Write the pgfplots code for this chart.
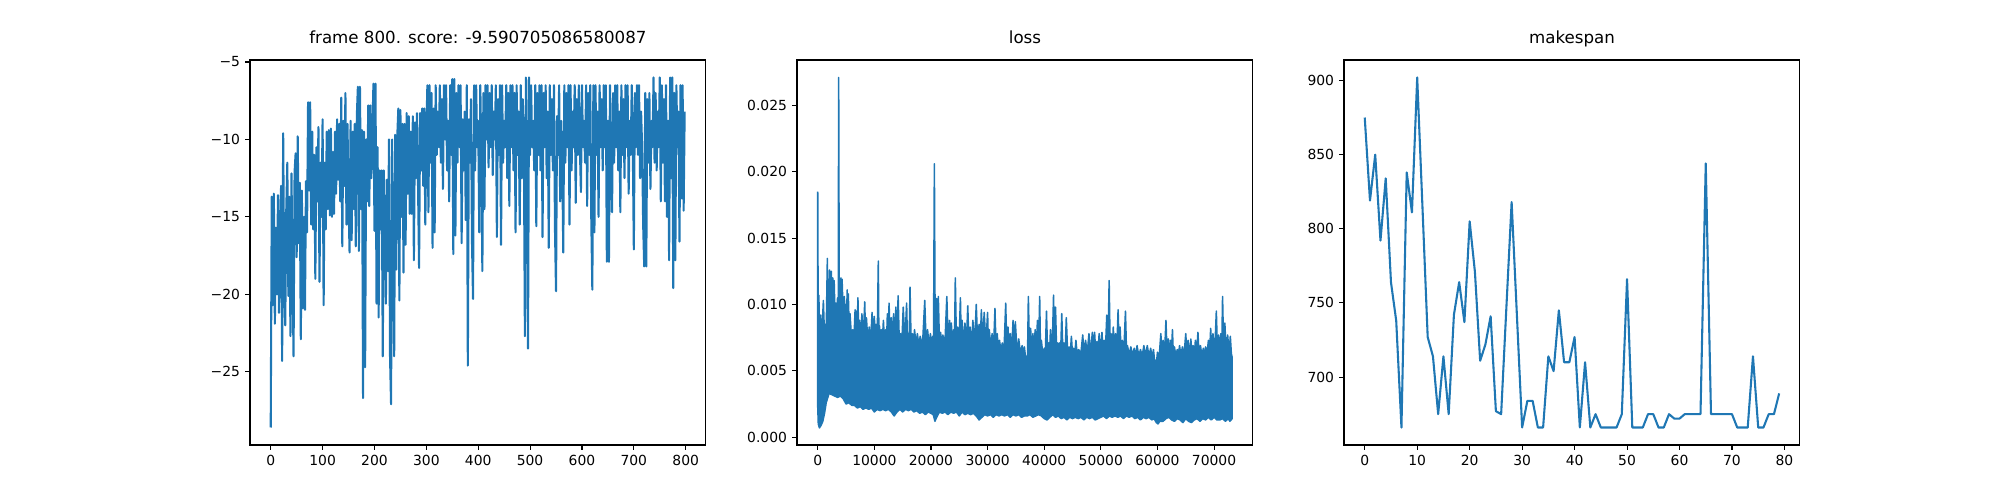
\documentclass[border=0pt]{standalone}
\usepackage{pgfplots}
\pgfplotsset{compat=1.18}
\usepackage{fontspec}
\setmainfont{DejaVu Sans}
\definecolor{mplblue}{HTML}{1F77B4}
\pgfplotsset{
  mpl/.style={
    scale only axis, width=4.559in, height=3.85in,
    axis line style={line width=0.8bp, black},
    every tick/.style={line width=0.8bp, black},
    major tick length=3.5bp,
    tick align=outside, tick pos=left,
    minor tick num=0,
    scaled ticks=false,
    tick label style={font=\fontsize{10bp}{12bp}\selectfont},
    xticklabel style={anchor=north, inner sep=0pt, yshift=-3.5bp},
    yticklabel style={anchor=east, inner sep=0pt, xshift=-3.5bp},
    title style={at={(0.5,1)}, anchor=base, yshift=6bp, inner sep=0pt, font=\fontsize{12bp}{14bp}\selectfont},
    clip=true,
  },
  mplline/.style={color=mplblue, line width=1.5bp, line join=round, mark=none},
}
\pgfplotstableread{
x y
0 -28.6
2 -13.7
4 -20.7
6 -13.5
8 -21.9
10 -15.7
12 -20.0
14 -13.6
16 -21.2
18 -15.9
20 -13.0
22 -24.3
24 -9.6
26 -19.5
28 -22.0
30 -14.5
32 -11.5
34 -20.1
36 -13.7
38 -22.7
40 -12.2
42 -18.5
44 -24.0
46 -12.1
48 -10.9
50 -17.6
52 -9.8
54 -16.7
56 -12.8
58 -22.9
60 -13.3
62 -20.9
64 -15.0
66 -21.0
68 -12.7
70 -16.0
72 -7.6
74 -13.3
76 -7.6
78 -15.5
80 -9.5
82 -15.8
84 -11.0
86 -19.0
88 -10.5
90 -14.0
92 -9.2
94 -19.2
96 -11.5
98 -15.0
100 -8.7
102 -20.7
104 -11.5
106 -15.8
108 -9.5
110 -14.5
112 -9.4
114 -14.9
116 -9.3
118 -15.0
120 -10.8
122 -14.8
124 -9.5
126 -13.5
128 -8.7
130 -12.6
132 -9.0
134 -14.0
136 -7.3
138 -16.9
140 -8.8
142 -13.0
144 -7.0
146 -15.5
148 -9.0
150 -14.0
152 -17.3
154 -8.8
156 -16.5
158 -9.5
160 -14.5
162 -9.0
164 -16.9
166 -8.5
168 -6.6
170 -17.2
172 -6.6
174 -14.5
176 -9.4
178 -26.7
180 -9.5
182 -24.7
184 -10.0
186 -14.0
188 -7.8
190 -14.3
192 -7.8
194 -12.5
196 -9.5
198 -6.4
200 -15.9
202 -6.4
204 -20.6
206 -10.5
208 -21.5
210 -12.0
212 -15.8
214 -12.0
216 -24.0
218 -12.0
220 -16.0
222 -20.6
224 -12.6
226 -18.5
228 -10.0
230 -24.0
232 -27.1
234 -10.0
236 -18.0
238 -24.0
240 -9.7
242 -18.4
244 -9.8
246 -8.0
248 -20.4
250 -8.1
252 -15.0
254 -9.0
256 -18.6
258 -9.0
260 -16.8
262 -8.3
264 -13.5
266 -8.5
268 -14.8
270 -9.5
272 -14.8
274 -8.5
276 -17.8
278 -8.9
280 -12.5
282 -8.3
284 -13.0
286 -18.3
288 -8.3
290 -12.0
292 -8.0
294 -13.0
296 -8.0
298 -15.5
300 -9.5
302 -6.5
304 -14.7
306 -6.5
308 -11.5
310 -7.0
312 -17.0
314 -8.0
316 -16.0
318 -6.5
320 -11.0
322 -8.2
324 -10.5
326 -6.5
328 -11.5
330 -7.4
332 -13.2
334 -6.5
336 -10.0
338 -6.5
340 -12.0
342 -8.8
344 -14.0
346 -6.5
348 -11.0
350 -6.1
352 -17.4
354 -6.1
356 -16.2
358 -7.0
360 -11.5
362 -6.5
364 -10.5
366 -6.5
368 -16.7
370 -8.7
372 -12.0
374 -8.2
376 -15.2
378 -6.5
380 -24.6
382 -8.7
384 -11.5
386 -7.4
388 -16.6
390 -20.3
392 -6.5
394 -12.0
396 -6.5
398 -10.5
400 -8.8
402 -16.0
404 -6.5
406 -11.0
408 -18.5
410 -7.0
412 -14.5
414 -6.5
416 -10.0
418 -6.5
420 -11.8
422 -7.0
424 -10.5
426 -6.5
428 -12.3
430 -8.2
432 -10.0
434 -6.5
436 -16.3
438 -7.4
440 -11.0
442 -6.5
444 -16.8
446 -6.5
448 -11.5
450 -8.8
452 -10.5
454 -6.5
456 -12.5
458 -7.0
460 -14.3
462 -6.5
464 -10.5
466 -6.5
468 -12.0
470 -7.0
472 -16.0
474 -6.5
476 -11.0
478 -8.2
480 -15.5
482 -6.5
484 -12.5
486 -7.4
488 -10.5
490 -22.7
492 -6.0
494 -11.5
496 -23.5
498 -6.0
500 -11.0
502 -6.5
504 -10.5
506 -8.8
508 -12.0
510 -6.5
512 -15.6
514 -7.0
516 -11.0
518 -6.5
520 -12.0
522 -6.5
524 -16.3
526 -7.0
528 -10.5
530 -6.5
532 -12.5
534 -8.2
536 -17.0
538 -6.5
540 -11.0
542 -7.4
544 -12.0
546 -6.5
548 -15.8
550 -19.8
552 -8.5
554 -11.0
556 -6.5
558 -14.0
560 -8.8
562 -11.5
564 -17.3
566 -6.5
568 -11.5
570 -7.0
572 -10.5
574 -6.5
576 -15.5
578 -6.5
580 -12.0
582 -8.2
584 -10.5
586 -6.5
588 -14.1
590 -7.4
592 -11.0
594 -6.5
596 -10.5
598 -13.4
600 -6.5
602 -10.5
604 -8.8
606 -11.5
608 -6.5
610 -14.3
612 -7.0
614 -11.0
616 -6.5
618 -15.2
620 -19.7
622 -6.5
624 -16.0
626 -6.5
628 -11.0
630 -8.2
632 -15.0
634 -6.5
636 -10.5
638 -7.4
640 -12.0
642 -6.5
644 -10.5
646 -6.5
648 -17.9
650 -8.8
652 -17.9
654 -6.5
656 -11.5
658 -14.7
660 -7.0
662 -11.5
664 -6.5
666 -10.5
668 -6.5
670 -12.0
672 -8.2
674 -14.7
676 -6.5
678 -11.0
680 -7.4
682 -12.5
684 -6.5
686 -10.5
688 -6.5
690 -13.5
692 -8.8
694 -11.0
696 -6.5
698 -10.5
700 -17.1
702 -7.0
704 -10.5
706 -6.5
708 -11.0
710 -6.5
712 -12.5
714 -8.2
716 -10.5
718 -15.5
720 -18.2
722 -7.0
724 -18.2
726 -7.4
728 -11.5
730 -7.0
732 -13.2
734 -8.8
736 -10.5
738 -6.0
740 -11.5
742 -7.0
744 -12.0
746 -8.2
748 -10.5
750 -6.0
752 -14.0
754 -6.5
756 -11.5
758 -7.4
760 -14.0
762 -6.5
764 -15.0
766 -8.8
768 -17.8
770 -6.0
772 -12.5
774 -6.0
776 -19.6
778 -7.0
780 -17.8
782 -6.5
784 -10.5
786 -8.2
788 -16.6
790 -6.5
792 -13.8
794 -6.5
796 -14.6
798 -8.2
}\scoretable
\pgfplotstableread{
x y
0 0.0185
100 0.0060
200 0.0107
350 0.0070
500 0.0092
700 0.0075
1000 0.0103
1150 0.0082
1300 0.0085
1500 0.0080
1700 0.01347
1800 0.0095
1900 0.0105
2000 0.0092
2100 0.0126
2250 0.0100
2400 0.0125
2520 0.0098
2650 0.0120
2780 0.0100
2900 0.0118
3050 0.0092
3200 0.0101
3350 0.0090
3500 0.0105
3620 0.0092
3700 0.0271
3800 0.0095
3900 0.0110
4000 0.0095
4100 0.0120
4200 0.0098
4300 0.0119
4500 0.0092
4700 0.0106
4850 0.0088
5000 0.0100
5100 0.0088
5200 0.0111
5300 0.0090
5400 0.0108
5550 0.0082
5700 0.0093
5950 0.0076
6200 0.0081
6400 0.0074
6600 0.0096
6700 0.0080
6800 0.0095
6950 0.0076
7100 0.0105
7250 0.0074
7400 0.0088
7600 0.0073
7800 0.0093
8050 0.0074
8300 0.0102
8450 0.0075
8600 0.0090
8850 0.0072
9100 0.0083
9350 0.0072
9600 0.0094
9800 0.0073
10000 0.0091
10150 0.0072
10300 0.0085
10500 0.0072
10700 0.01327
10800 0.0075
10900 0.0084
11050 0.0071
11200 0.0081
11400 0.0071
11600 0.0088
11800 0.0071
12000 0.0081
12150 0.0071
12300 0.0093
12450 0.0073
12600 0.0101
12800 0.0072
13000 0.0090
13200 0.0072
13400 0.0093
13600 0.0073
13800 0.0098
14000 0.0074
14200 0.01066
14400 0.0072
14600 0.0078
14850 0.0070
15100 0.0098
15400 0.0072
15700 0.0101
15850 0.0071
16000 0.0078
16150 0.0071
16300 0.0113
16500 0.0070
16700 0.0078
16900 0.0070
17100 0.0081
17350 0.0070
17600 0.0078
17850 0.0069
18100 0.0076
18500 0.0069
18900 0.0103
19150 0.0070
19400 0.0081
19650 0.0069
19900 0.0078
20100 0.0069
20300 0.0076
20450 0.0070
20600 0.0206
20750 0.0070
20900 0.0080
20950 0.0072
21000 0.01045
21150 0.0072
21300 0.0106
21500 0.0070
21700 0.0079
21900 0.0069
22100 0.0077
22450 0.0069
22800 0.0106
23050 0.0070
23300 0.0088
23450 0.0070
23600 0.0086
23800 0.0069
24000 0.0081
24150 0.0070
24300 0.0120
24500 0.0070
24700 0.0083
24950 0.0070
25200 0.0105
25350 0.0071
25500 0.0088
25750 0.0070
26000 0.0086
26250 0.0070
26500 0.0099
26700 0.0070
26900 0.0083
27150 0.0069
27400 0.0088
27700 0.0070
28000 0.0100
28250 0.0070
28500 0.0085
28700 0.0070
28900 0.0096
29150 0.0071
29400 0.0094
29700 0.0070
30000 0.0094
30150 0.0068
30300 0.0081
30550 0.0067
30800 0.0078
31050 0.0066
31300 0.0097
31500 0.0066
31700 0.0078
31900 0.0065
32100 0.0073
32350 0.0065
32600 0.0071
32900 0.0065
33200 0.0101
33400 0.0066
33600 0.0083
33800 0.0065
34000 0.0078
34250 0.0065
34500 0.0088
34700 0.0066
34900 0.0087
35200 0.0064
35500 0.0074
35800 0.0063
36100 0.0069
36300 0.0063
36500 0.0068
36700 0.0060
36900 0.0061
37050 0.0060
37200 0.0106
37400 0.0064
37600 0.0082
37800 0.0064
38000 0.0078
38200 0.0063
38400 0.0081
38600 0.0064
38800 0.0088
39000 0.0064
39200 0.0106
39350 0.0063
39500 0.0073
39750 0.0062
40000 0.0067
40200 0.0063
40400 0.0095
40600 0.0063
40800 0.0071
40950 0.0063
41100 0.0081
41400 0.0064
41650 0.0107
41800 0.0068
42000 0.0098
42200 0.0063
42400 0.0071
42550 0.0063
42700 0.0071
42900 0.0063
43100 0.0093
43300 0.0063
43500 0.0071
43700 0.0063
43900 0.0090
44150 0.0062
44400 0.0068
44600 0.0062
44800 0.0076
45000 0.0062
45200 0.0067
45400 0.0062
45600 0.0073
45850 0.0061
46100 0.0066
46450 0.0062
46800 0.0077
47050 0.0062
47300 0.0073
47600 0.0063
47900 0.0078
48200 0.0063
48500 0.0079
48700 0.0064
48900 0.0079
49100 0.0063
49300 0.0072
49500 0.0063
49700 0.0078
49950 0.0063
50200 0.0079
50400 0.0063
50600 0.0073
50800 0.0064
51050 0.0092
51250 0.0066
51470 0.0118
51650 0.0066
51800 0.0078
52000 0.0064
52200 0.0083
52400 0.0064
52600 0.0078
52800 0.0064
53050 0.0096
53250 0.0064
53400 0.0083
53600 0.0063
53800 0.0073
54050 0.0063
54350 0.0095
54550 0.0062
54700 0.0069
55000 0.0062
55300 0.0068
55600 0.0062
55900 0.0067
56150 0.0061
56400 0.0069
56700 0.0061
57000 0.0066
57300 0.0061
57600 0.0069
57900 0.0061
58200 0.0069
58500 0.0061
58800 0.0067
59050 0.0060
59300 0.0066
59500 0.0057
59700 0.0058
59850 0.0057
60000 0.0064
60300 0.0060
60600 0.0078
60800 0.0062
61000 0.0073
61250 0.0062
61500 0.0088
61700 0.0063
61900 0.0074
62100 0.0062
62300 0.0073
62450 0.0062
62650 0.0081
62800 0.0062
63000 0.0068
63250 0.0061
63500 0.0066
63700 0.0061
63900 0.0069
64150 0.0061
64400 0.0068
64700 0.0062
65000 0.0078
65200 0.0062
65400 0.0073
65650 0.0062
65900 0.0074
66100 0.0061
66300 0.0069
66500 0.0061
66700 0.0073
66900 0.0062
67150 0.0079
67350 0.0061
67600 0.0069
67850 0.0061
68100 0.0067
68300 0.0061
68500 0.0068
68750 0.0062
69000 0.0073
69200 0.0062
69400 0.0082
69600 0.0063
69800 0.0078
70100 0.0063
70400 0.0095
70600 0.0063
70800 0.0077
71000 0.0063
71200 0.0078
71350 0.0064
71500 0.0106
71700 0.0064
71900 0.0086
72150 0.0063
72400 0.0077
72650 0.0063
72870 0.0076
73050 0.0063
73200 0.0060
73200 0.0014
72800 0.0012
72500 0.0014
72000 0.0012
71500 0.0014
71000 0.0013
70500 0.0013
70000 0.0015
69500 0.0013
69000 0.0015
68500 0.0013
68000 0.0014
67500 0.0012
67000 0.0014
66500 0.0013
66000 0.0011
65500 0.0012
65000 0.0014
64500 0.0011
64000 0.0013
63500 0.0014
63000 0.0012
62500 0.0013
62000 0.0015
61500 0.0014
61000 0.0012
60400 0.0012
60100 0.0010
59800 0.0011
59400 0.0014
59000 0.0013
58500 0.0015
58000 0.0014
57500 0.0015
57000 0.0013
56500 0.0015
56000 0.0014
55500 0.0016
55000 0.0015
54500 0.0016
54000 0.0014
53500 0.0016
53000 0.0015
52500 0.0016
52000 0.0015
51500 0.0016
51000 0.0014
50500 0.0016
50000 0.0015
49500 0.0014
49000 0.0013
48500 0.0015
48000 0.0014
47500 0.0015
47000 0.0013
46500 0.0015
46000 0.0014
45500 0.0015
45000 0.0014
44500 0.0015
44000 0.0013
43500 0.0015
43000 0.0014
42500 0.0016
42000 0.0015
41500 0.0017
41000 0.0015
40500 0.0013
40000 0.0014
39500 0.0016
39000 0.0017
38500 0.0016
38000 0.0015
37500 0.0017
37000 0.0016
36500 0.0016
36000 0.0015
35500 0.0017
35000 0.0016
34500 0.0017
34000 0.0015
33500 0.0017
33000 0.0016
32500 0.0017
32000 0.0016
31500 0.0017
31000 0.0015
30500 0.0017
30000 0.0016
29500 0.0017
29000 0.0015
28500 0.0013
28000 0.0016
27500 0.0018
27000 0.0017
26500 0.0018
26000 0.0017
25500 0.0019
25000 0.0016
24500 0.0019
24000 0.0018
23500 0.0019
23000 0.0017
22500 0.0019
22000 0.0018
21500 0.0019
21000 0.0015
20700 0.0012
20400 0.0017
20000 0.0018
19500 0.0019
19000 0.0017
18500 0.0019
18000 0.0018
17500 0.0020
17000 0.0019
16500 0.0021
16000 0.0020
15500 0.0021
15000 0.0019
14500 0.0021
14000 0.0019
13500 0.0016
13000 0.0019
12500 0.0021
12000 0.0020
11500 0.0021
11000 0.0020
10500 0.0021
10000 0.0019
9500 0.0022
9000 0.0021
8500 0.0022
8000 0.0021
7500 0.0023
7000 0.0022
6500 0.0024
6000 0.0024
5500 0.0026
5000 0.0025
4500 0.0029
4000 0.0031
3500 0.0030
3000 0.0031
2500 0.0032
2000 0.0033
1500 0.0026
1200 0.0018
900 0.0012
600 0.0009
300 0.0007
100 0.0010
0 0.0023
0 0.0185
}\losstable
\begin{document}
\begin{tikzpicture}
\useasboundingbox (0,0) rectangle (20in,5in);
% ---------------- score ----------------
\begin{axis}[mpl, at={(2.5in,0.55in)}, anchor=south west,
  xmin=-39.95, xmax=838.95, ymin=-29.73, ymax=-4.87,
  xtick={0,100,200,300,400,500,600,700,800},
  xticklabels={0,100,200,300,400,500,600,700,800},
  ytick={-25,-20,-15,-10,-5},
  yticklabels={−25,−20,−15,−10,−5},
  title={frame 800. score: -9.590705086580087}]
\addplot[mplline] table {\scoretable};
\end{axis}
% ---------------- loss ----------------
\begin{axis}[mpl, at={(7.97in,0.55in)}, anchor=south west,
  xmin=-3660, xmax=76860, ymin=-0.00059, ymax=0.02842,
  xtick={0,10000,20000,30000,40000,50000,60000,70000},
  xticklabels={0,10000,20000,30000,40000,50000,60000,70000},
  ytick={0,0.005,0.01,0.015,0.02,0.025},
  yticklabels={0.000,0.005,0.010,0.015,0.020,0.025},
  title={loss}]
\addplot[color=mplblue, fill=mplblue, line width=1.1bp, line join=round, mark=none] table {\losstable};
\end{axis}
% ---------------- makespan ----------------
\begin{axis}[mpl, at={(13.44in,0.55in)}, anchor=south west,
  xmin=-3.95, xmax=82.95, ymin=654.2, ymax=913.8,
  xtick={0,10,20,30,40,50,60,70,80},
  xticklabels={0,10,20,30,40,50,60,70,80},
  ytick={700,750,800,850,900},
  yticklabels={700,750,800,850,900},
  title={makespan}]
\addplot[mplline] coordinates {
(0,875)(1,819)(2,850)(3,792)(4,834)(5,764)(6,738)(7,666)(8,838)(9,811)
(10,902)(11,815)(12,727)(13,714)(14,675)(15,714)(16,675)(17,742)(18,764)(19,737)
(20,805)(21,771)(22,711)(23,722)(24,741)(25,677)(26,675)(27,747)(28,818)(29,742)
(30,666)(31,684)(32,684)(33,666)(34,666)(35,714)(36,704)(37,745)(38,710)(39,710)
(40,727)(41,666)(42,710)(43,666)(44,675)(45,666)(46,666)(47,666)(48,666)(49,675)
(50,766)(51,666)(52,666)(53,666)(54,675)(55,675)(56,666)(57,666)(58,675)(59,672)
(60,672)(61,675)(62,675)(63,675)(64,675)(65,844)(66,675)(67,675)(68,675)(69,675)
(70,675)(71,666)(72,666)(73,666)(74,714)(75,666)(76,666)(77,675)(78,675)(79,689)
};
\end{axis}
\end{tikzpicture}
\end{document}
